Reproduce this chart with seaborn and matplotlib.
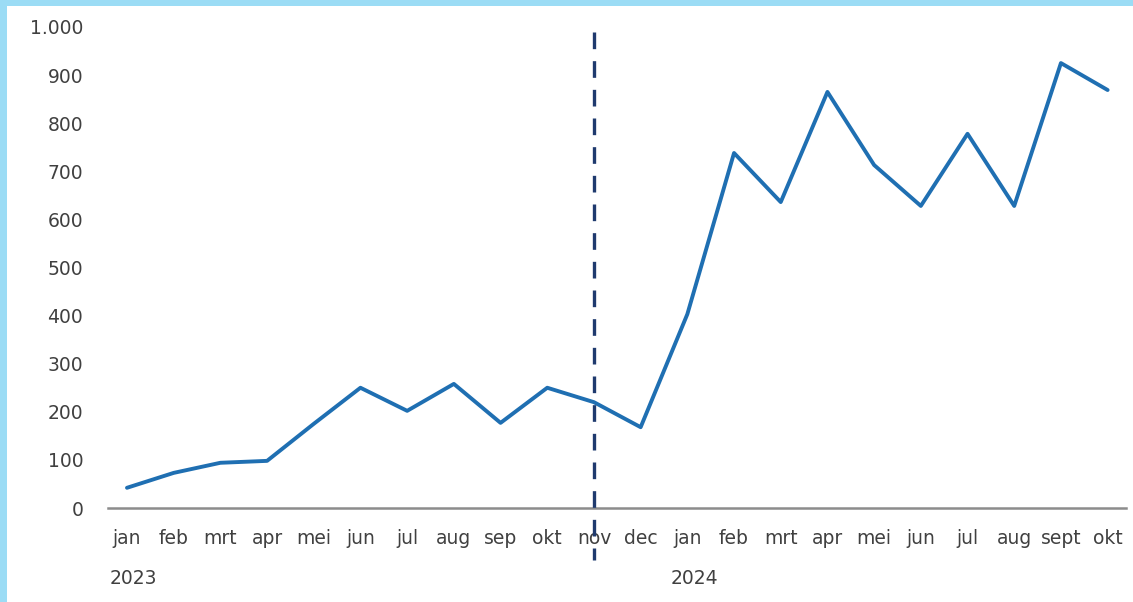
import numpy as np
import pandas as pd
import matplotlib
matplotlib.use("Agg")
import matplotlib.pyplot as plt
import seaborn as sns
from matplotlib.ticker import FuncFormatter
from matplotlib.patches import Rectangle

# Data
months = ["jan", "feb", "mrt", "apr", "mei", "jun", "jul", "aug", "sep", "okt", "nov", "dec",
          "jan", "feb", "mrt", "apr", "mei", "jun", "jul", "aug", "sept", "okt"]
values = [42, 73, 94, 98, 175, 250, 202, 258, 177, 250, 220, 168,
          403, 738, 636, 865, 713, 628, 778, 628, 925, 869]
years = ["2023", "2024"]
year_start_idx = [0, 12]
marker_idx = 10  # dashed line at nov 2023

sns.set_theme(style="white")
plt.rcParams['font.family'] = ['DejaVu Sans']

W, H = 1133, 602
fig = plt.figure(figsize=(W / 100, H / 100), dpi=100)
fig.patch.set_facecolor("#9bdcf5")
# white panel inside the light blue frame (left and top strips only)
fig.add_artist(Rectangle((7 / W, 0), 1, 1 - 6 / H, transform=fig.transFigure,
                         facecolor="white", edgecolor="none", zorder=0))

ax = fig.add_axes([108.3 / W, (H - 508) / H, 1018 / W, 481 / H])
ax.set_facecolor("none")

df = pd.DataFrame({"idx": np.arange(len(values)), "value": values})
sns.lineplot(data=df, x="idx", y="value", ax=ax, color="#1f6fb2", linewidth=2.8)

ax.set_xlim(-0.4, len(values) - 0.6)
ax.set_ylim(0, 1000)
ax.set_yticks(np.arange(0, 1001, 100))
ax.yaxis.set_major_formatter(FuncFormatter(lambda v, p: f"{int(v):,}".replace(",", ".")))
ax.set_xticks(np.arange(len(months)))
ax.set_xticklabels(months)
ax.set_xlabel("")
ax.set_ylabel("")
ax.tick_params(axis="both", length=0, labelsize=13.5, labelcolor="#404040")
ax.tick_params(axis="x", pad=15)
ax.tick_params(axis="y", pad=18)

for s in ["top", "right", "left"]:
    ax.spines[s].set_visible(False)
ax.spines["bottom"].set_color("#8c8c8c")
ax.spines["bottom"].set_linewidth(1.8)

# dashed vertical marker, drawn top-down so the first dash starts at the top
ax.plot([marker_idx, marker_idx], [990, -108], color="#1f3a6e", linewidth=2.4,
        linestyle=(0, (5, 3.6)), clip_on=False, zorder=3)

# year labels below the month labels
for yr, i in zip(years, year_start_idx):
    ax.annotate(yr, xy=(i, 0), xycoords=("data", "axes fraction"),
                xytext=(-17, -70), textcoords="offset pixels",
                ha="left", va="center", fontsize=13.5, color="#404040")

fig.savefig("out.png", dpi=100)
